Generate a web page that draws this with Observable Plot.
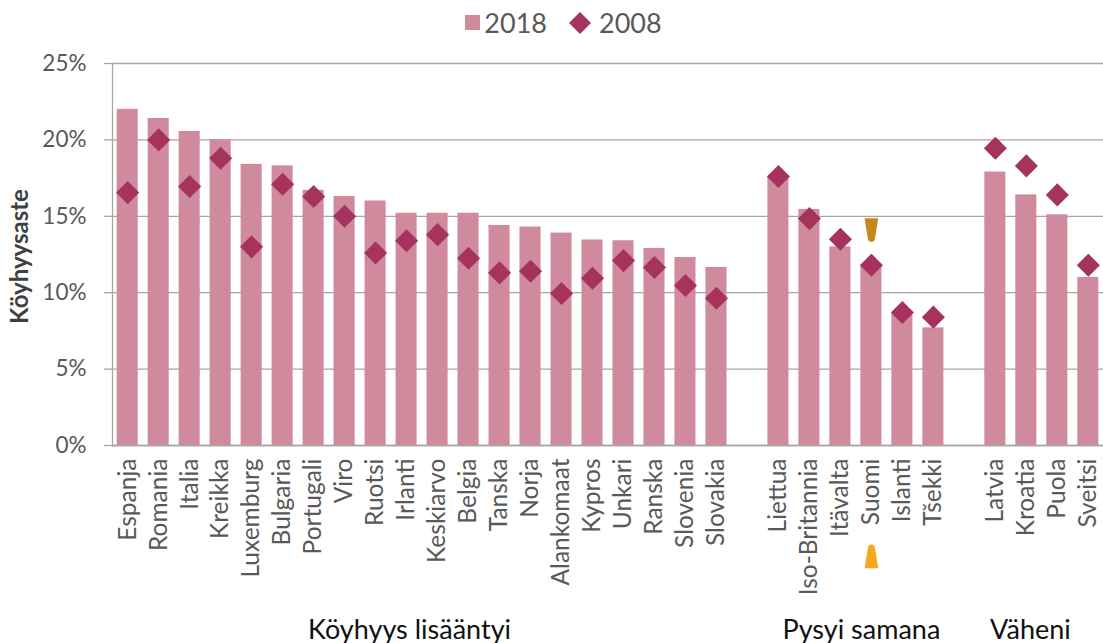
<!DOCTYPE html>
<html><head><meta charset="utf-8">
<script src="https://cdn.jsdelivr.net/npm/d3@7"></script>
<script src="https://cdn.jsdelivr.net/npm/@observablehq/plot@0.6"></script>
<style>
body{margin:0;background:#fff;font-family:Lato,sans-serif;overflow:hidden;}
#legend{height:45px;display:flex;justify-content:center;align-items:center;padding-left:24px;box-sizing:border-box;color:#595959;font-size:27px;}
#legend .item{display:flex;align-items:center;margin:0 10px;}
#chart svg{overflow:visible;display:block;}
</style></head><body>
<div id="legend"></div><div id="chart"></div>
<script>
// Group 1: poverty increased
const countries1 = ["Espanja","Romania","Italia","Kreikka","Luxemburg","Bulgaria","Portugali","Viro","Ruotsi","Irlanti","Keskiarvo","Belgia","Tanska","Norja","Alankomaat","Kypros","Unkari","Ranska","Slovenia","Slovakia"];
const v2018_1 = [22.0,21.4,20.55,20.0,18.4,18.3,16.7,16.3,16.0,15.2,15.2,15.2,14.4,14.3,13.9,13.45,13.4,12.9,12.3,11.65];
const v2008_1 = [16.55,20.0,16.95,18.8,13.0,17.1,16.3,15.0,12.6,13.4,13.8,12.25,11.3,11.4,9.95,10.95,12.1,11.65,10.47,9.64];
// Group 2: stayed the same
const countries2 = ["Liettua","Iso-Britannia","Itävalta","Suomi","Islanti","Tšekki"];
const v2018_2 = [17.6,15.45,13.0,11.7,8.6,7.7];
const v2008_2 = [17.6,14.85,13.5,11.8,8.7,8.4];
// Group 3: decreased
const countries3 = ["Latvia","Kroatia","Puola","Sveitsi"];
const v2018_3 = [17.9,16.4,15.1,11.0];
const v2008_3 = [19.45,18.3,16.4,11.8];

const groupNames = ["Köyhyys lisääntyi","Pysyi samana","Väheni"];
const seriesNames = ["2018","2008"];
const yTicks = [0,5,10,15,20,25];
const highlight = ["Suomi"];
const highlightTop = [14.1];

const colors = {bar:"#CF8A9E", dot:"#A6325E", grid:"#a6a6a6", text:"#595959"};

const slots = [...countries1, "_gap1", ...countries2, "_gap2", ...countries3];
const rows = [];
[[countries1,v2018_1,v2008_1],[countries2,v2018_2,v2008_2],[countries3,v2018_3,v2008_3]].forEach(([c,a,b]) => {
  c.forEach((name,i) => rows.push({country:name, v2018:a[i], v2008:b[i]}));
});
const allCountries = [...countries1, ...countries2, ...countries3];

// Legend
const legend = document.getElementById("legend");
legend.innerHTML = `
<div class="item"><span style="display:inline-block;width:15px;height:15px;background:${colors.bar};margin-right:4px"></span>${seriesNames[0]}</div>
<div class="item"><svg width="26" height="26" style="margin-right:6px"><polygon points="13,2 24,13 13,24 2,13" fill="${colors.dot}"/></svg>${seriesNames[1]}</div>`;

const taperDown = {draw(ctx){ctx.moveTo(-6,-11);ctx.lineTo(6,-11);ctx.lineTo(2.5,10);ctx.quadraticCurveTo(0,12.5,-2.5,10);ctx.closePath();}};
const taperUp = {draw(ctx){ctx.moveTo(-2.5,-10);ctx.quadraticCurveTo(0,-12.5,2.5,-10);ctx.lineTo(6,11);ctx.lineTo(-6,11);ctx.closePath();}};

const groupMarks = [
  Plot.text([groupNames[0]], {x: () => "Irlanti", text: d => d, frameAnchor:"bottom", dy:193, dx:3, fontSize:27, fill:"#111"}),
  Plot.text([groupNames[1]], {x: () => "Suomi", text: d => d, frameAnchor:"bottom", dy:193, dx:-10, fontSize:27, fill:"#111"}),
  Plot.text([groupNames[2]], {x: () => "Kroatia", text: d => d, frameAnchor:"bottom", dy:193, dx:4, fontSize:27, fill:"#111"})
];

const chart = Plot.plot({
  width:1103, height:598,
  marginLeft:112, marginRight:0, marginTop:18, marginBottom:198,
  style:{fontFamily:"Lato, sans-serif", background:"white", overflow:"visible"},
  x:{domain:slots, paddingInner:0.32, paddingOuter:0.15, axis:null},
  y:{domain:[0,25], axis:null},
  marks:[
    Plot.gridY(yTicks, {stroke:colors.grid, strokeOpacity:1, strokeWidth:1.3}),
    Plot.axisY(yTicks, {tickSize:8, tickPadding:18, tickFormat:d => d + "%", fontSize:22.5, fill:colors.text, stroke:colors.grid, strokeWidth:1.3, label:null}),
    Plot.barY(rows, {x:"country", y:"v2018", fill:colors.bar}),
    Plot.ruleY([0], {stroke:colors.grid, strokeWidth:1.5}),
    Plot.frame({anchor:"left", stroke:colors.grid, strokeWidth:1.3}),
    Plot.dot(rows, {x:"country", y:"v2008", symbol:"diamond2", r:10.4, fill:colors.dot}),
    Plot.dot(highlight, {x:d => d, y:(d,i) => highlightTop[i], symbol:taperDown, fill:"#C88620", stroke:"#C88620", strokeWidth:1.5, strokeLinejoin:"round"}),
    Plot.dot(highlight, {x:d => d, frameAnchor:"bottom", dy:111, symbol:taperUp, fill:"#F7A61E", stroke:"#F7A61E", strokeWidth:1.5, strokeLinejoin:"round"}),
    Plot.axisX(allCountries, {tickRotate:-90, tickSize:0, tickPadding:13, fontSize:24.5, fill:colors.text, label:null}),
    Plot.text(["Köyhyysaste"], {text:d => d, frameAnchor:"left", textAnchor:"middle", dx:-92, dy:2, rotate:-90, fontSize:24, fontWeight:"bold", fill:"#404040"}),
    ...groupMarks
  ]
});
document.getElementById("chart").appendChild(chart);
</script>
</body></html>
